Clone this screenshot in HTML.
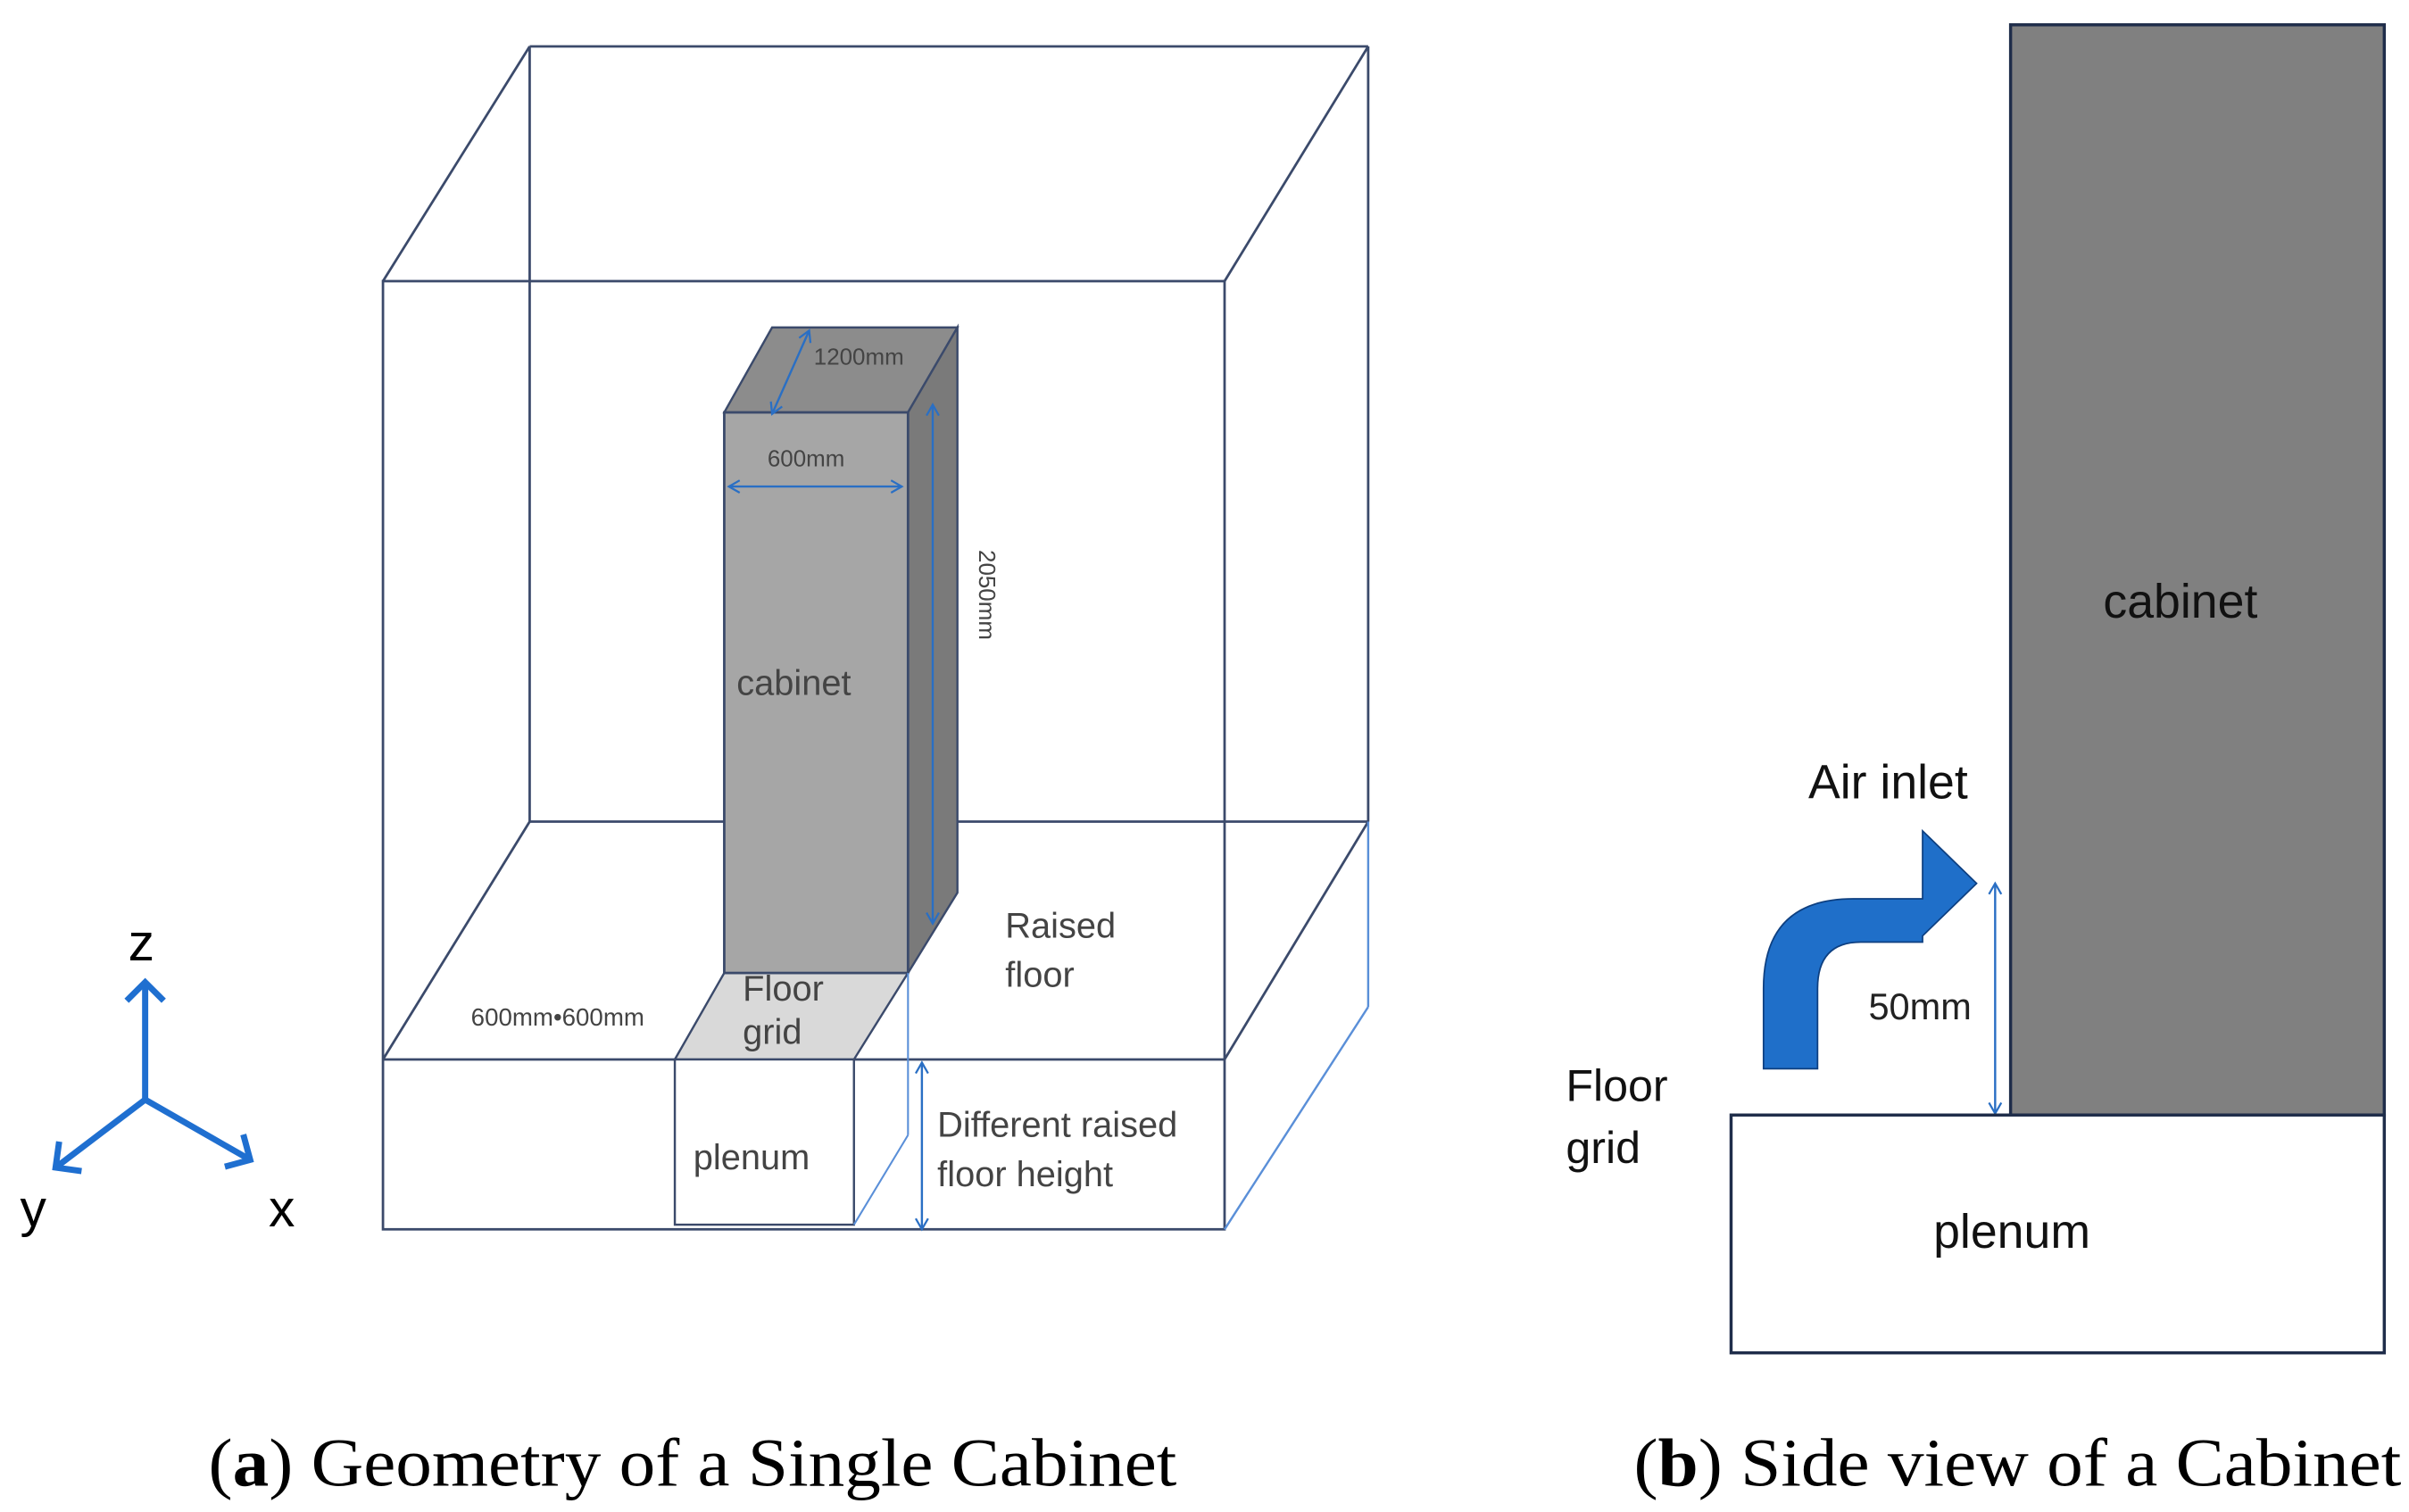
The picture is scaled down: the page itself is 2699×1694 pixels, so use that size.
<!DOCTYPE html>
<html><head><style>
html,body{margin:0;padding:0;background:#fff;}
svg{display:block;}
text{font-family:"Liberation Sans",sans-serif;}
text.serif{font-family:"Liberation Serif",serif;}
</style></head><body>
<svg width="2699" height="1694" viewBox="0 0 1560 979" xmlns="http://www.w3.org/2000/svg">
<defs>
<marker id="ah" markerWidth="10" markerHeight="10" refX="8" refY="5" orient="auto-start-reverse" markerUnits="userSpaceOnUse">
<path d="M1,1 L8,5 L1,9" fill="none" stroke="#2a6fc4" stroke-width="1.3"/></marker>
<marker id="ax" markerWidth="30" markerHeight="30" refX="14" refY="15" orient="auto" markerUnits="userSpaceOnUse">
<path d="M2,3 L14,15 L2,27" fill="none" stroke="#1f6fd0" stroke-width="4"/></marker>
</defs>
<g fill="none" stroke="#3b4a6b" stroke-width="1.6">
<line x1="343" y1="30" x2="886" y2="30"/>
<line x1="343" y1="30" x2="343" y2="532"/>
<line x1="886" y1="30" x2="886" y2="532"/>
<line x1="248" y1="182" x2="343" y2="30"/>
<line x1="793" y1="182" x2="886" y2="30"/>
<line x1="343" y1="532" x2="886" y2="532"/>
<line x1="248" y1="686" x2="343" y2="532"/>
<line x1="793" y1="686" x2="886" y2="532"/>
<rect x="248" y="182" width="545" height="614"/>
<line x1="248" y1="686" x2="793" y2="686"/>
</g>
<line x1="886" y1="532" x2="886" y2="652" stroke="#5a8fd8" stroke-width="1.4"/>
<line x1="793" y1="796" x2="886" y2="652" stroke="#5a8fd8" stroke-width="1.4"/>
<polygon points="469,630 588,630 553,686 437,686" fill="#d9d9d9" stroke="#3b4a6b" stroke-width="1.4"/>
<rect x="437" y="686" width="116" height="107" fill="#fff" stroke="#3b4a6b" stroke-width="1.4"/>
<polygon points="469,267 500,212 620,212 588,267" fill="#8c8c8c" stroke="#3b4a6b" stroke-width="1.4"/>
<polygon points="588,267 620,212 620,578 588,630" fill="#7a7a7a" stroke="#3b4a6b" stroke-width="1.4"/>
<rect x="469" y="267" width="119" height="363" fill="#a6a6a6" stroke="#3b4a6b" stroke-width="1.6"/>
<line x1="588" y1="630" x2="588" y2="735" stroke="#5a8fd8" stroke-width="1.2"/>
<line x1="553" y1="793" x2="588" y2="735" stroke="#5a8fd8" stroke-width="1.2"/>
<g stroke="#2a6fc4" stroke-width="1.4" marker-start="url(#ah)" marker-end="url(#ah)">
<line x1="472" y1="315" x2="584" y2="315"/>
<line x1="500" y1="268" x2="524" y2="214"/>
<line x1="604" y1="262" x2="604" y2="598"/>
<line x1="597" y1="688" x2="597" y2="796"/>
<line x1="1292" y1="572" x2="1292" y2="721"/>
</g>
<g fill="#444" font-size="15">
<text x="527" y="236">1200mm</text>
<text x="497" y="302">600mm</text>
<text x="305" y="664" font-size="16">600mm•600mm</text>
<text x="634" y="356" transform="rotate(90 634 356)">2050mm</text>
</g>
<g fill="#444" font-size="23">
<text x="477" y="450">cabinet</text>
<text x="481" y="648">Floor</text>
<text x="481" y="676">grid</text>
<text x="651" y="607">Raised</text>
<text x="651" y="639">floor</text>
<text x="449" y="757">plenum</text>
<text x="607" y="736">Different raised</text>
<text x="607" y="768">floor height</text>
</g>
<g stroke="#1f6fd0" stroke-width="4" fill="none">
<line x1="94" y1="712" x2="94" y2="636" marker-end="url(#ax)"/>
<line x1="94" y1="712" x2="36" y2="756" marker-end="url(#ax)"/>
<line x1="94" y1="712" x2="162" y2="751" marker-end="url(#ax)"/>
</g>
<g font-size="34" fill="#000">
<text x="83" y="622">z</text>
<text x="13" y="794">y</text>
<text x="174" y="794">x</text>
</g>
<rect x="1302" y="16" width="242" height="706" fill="#808080" stroke="#1f2d4a" stroke-width="2"/>
<rect x="1121" y="722" width="423" height="154" fill="#fff" stroke="#1f2d4a" stroke-width="2"/>
<path d="M1142,692 L1142,640 Q1142,582 1200,582 L1245,582 L1245,538 L1280,572 L1245,606 L1245,610 L1205,610 Q1177,610 1177,640 L1177,692 Z" fill="#1f6fc9" stroke="#0d3f80" stroke-width="1"/>
<g font-size="31" fill="#111">
<text x="1362" y="400">cabinet</text>
<text x="1171" y="517">Air inlet</text>
<text x="1252" y="808">plenum</text>
<text x="1014" y="713" font-size="29">Floor</text>
<text x="1014" y="753" font-size="29">grid</text>
</g>
<text x="1210" y="660" font-size="24" fill="#222">50mm</text>
<g font-size="44" fill="#000">
<text class="serif" x="135" y="962" textLength="627" lengthAdjust="spacingAndGlyphs">(<tspan font-weight="bold">a</tspan>) Geometry of a Single Cabinet</text>
<text class="serif" x="1058" y="962" textLength="497" lengthAdjust="spacingAndGlyphs">(<tspan font-weight="bold">b</tspan>) Side view of a Cabinet</text>
</g>
</svg>
</body></html>
